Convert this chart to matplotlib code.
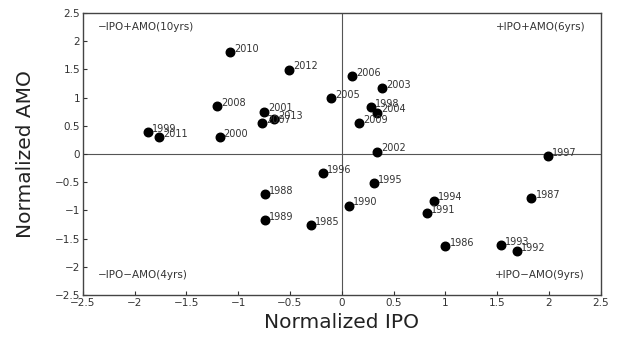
import numpy as np
import matplotlib.pyplot as plt

years = [2010, 2012, 2006, 2003, 2005, 1998, 2004, 2009, 2008, 2001, 2013, 2007,
         1999, 2011, 2000, 2002, 1997, 1996, 1995, 1988, 1994, 1987, 1990, 1991,
         1989, 1985, 1986, 1993, 1992]
ipo = [-1.08, -0.51, 0.10, 0.39, -0.10, 0.28, 0.34, 0.17, -1.20, -0.75, -0.65, -0.77,
       -1.87, -1.76, -1.18, 0.34, 1.99, -0.18, 0.31, -0.74, 0.89, 1.83, 0.07, 0.82,
       -0.74, -0.30, 1.00, 1.54, 1.69]
amo = [1.80, 1.49, 1.38, 1.17, 0.99, 0.83, 0.73, 0.55, 0.85, 0.75, 0.62, 0.55,
       0.39, 0.30, 0.30, 0.04, -0.04, -0.34, -0.52, -0.71, -0.83, -0.78, -0.92, -1.05,
       -1.17, -1.26, -1.63, -1.62, -1.72]
quad_text = ['\u2212IPO+AMO(10yrs)', '+IPO+AMO(6yrs)', '\u2212IPO\u2212AMO(4yrs)', '+IPO\u2212AMO(9yrs)']
ticks = [-2.5, -2, -1.5, -1, -0.5, 0, 0.5, 1, 1.5, 2, 2.5]

fig = plt.figure(figsize=(6.18, 3.40), dpi=100)
ax = fig.add_axes([0.134, 0.132, 0.838, 0.830])

ax.axhline(0, color='#555555', lw=0.8, zorder=1)
ax.axvline(0, color='#555555', lw=0.8, zorder=1)
ax.scatter(ipo, amo, s=38, color='black', zorder=3)
for x, y, yr in zip(ipo, amo, years):
    ax.annotate(str(yr), (x, y), xytext=(3, 2.5), textcoords='offset points',
                fontsize=7, color='#333333', va='center', ha='left')

ax.text(-2.35, 2.25, quad_text[0], fontsize=7.5, color='#333333', va='center')
ax.text(2.35, 2.25, quad_text[1], fontsize=7.5, color='#333333', va='center', ha='right')
ax.text(-2.35, -2.15, quad_text[2], fontsize=7.5, color='#333333', va='center')
ax.text(2.35, -2.15, quad_text[3], fontsize=7.5, color='#333333', va='center', ha='right')

ax.set_xlim(-2.5, 2.5)
ax.set_ylim(-2.5, 2.5)
ax.set_xticks(ticks)
ax.set_yticks(ticks)
ax.set_xticklabels([('%g' % t).replace('-', '\u2212') for t in ticks])
ax.set_yticklabels([('%g' % t).replace('-', '\u2212') for t in ticks])
ax.tick_params(direction='in', length=3, labelsize=7.5, colors='#333333', pad=2)
for sp in ax.spines.values():
    sp.set_color('#444444')
    sp.set_linewidth(1.0)

ax.set_xlabel('Normalized IPO', fontsize=14.5, color='#222222', labelpad=4)
ax.set_ylabel('Normalized AMO', fontsize=14.5, color='#222222', labelpad=14)

plt.savefig('out.png', dpi=100)
